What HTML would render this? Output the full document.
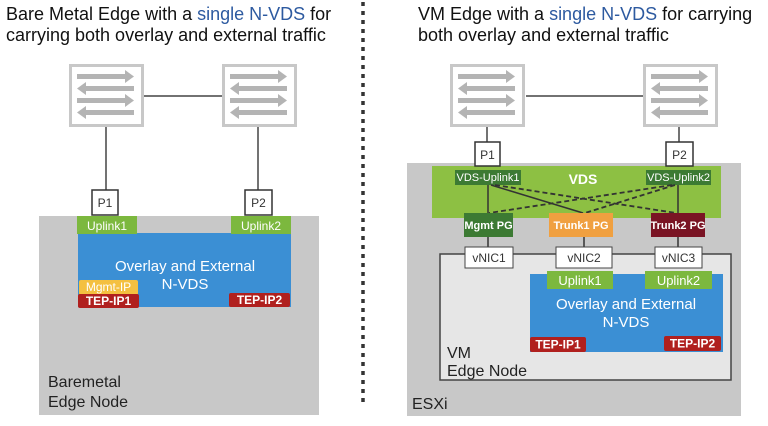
<!DOCTYPE html>
<html><head><meta charset="utf-8"><style>
body{margin:0;background:#fff;}
svg{display:block;font-family:"Liberation Sans",sans-serif;}
</style></head><body>
<svg width="768" height="426" viewBox="0 0 768 426" xmlns="http://www.w3.org/2000/svg">
<defs>
<g id="sw">
<rect x="1.5" y="1.5" width="72" height="60" fill="#fff" stroke="#c8c8c8" stroke-width="3"/>
<g fill="#b4b4b4">
<rect x="8" y="10" width="48" height="5"/><polygon points="56,6 65,12.5 56,19"/>
<rect x="17" y="22" width="48" height="5"/><polygon points="17,18 8,24.5 17,31"/>
<rect x="8" y="34" width="48" height="5"/><polygon points="56,30 65,36.5 56,43"/>
<rect x="17" y="46" width="48" height="5"/><polygon points="17,42 8,48.5 17,55"/>
</g>
</g>
</defs>
<!-- titles -->
<g font-size="18" fill="#111">
<text x="6" y="20">Bare Metal Edge with a <tspan fill="#2d5aa0">single N-VDS</tspan> for</text>
<text x="6" y="41">carrying both overlay and external traffic</text>
<text x="418" y="20">VM Edge with a <tspan fill="#2d5aa0">single N-VDS</tspan> for carrying</text>
<text x="418" y="41">both overlay and external traffic</text>
</g>
<line x1="363" y1="2" x2="363" y2="402" stroke="#333" stroke-width="3.5" stroke-dasharray="4,5"/>

<!-- LEFT -->
<line x1="143" y1="96" x2="222" y2="96" stroke="#444" stroke-width="1.5"/>
<use href="#sw" x="69" y="64"/>
<use href="#sw" x="222" y="64"/>
<line x1="106" y1="127" x2="106" y2="190" stroke="#444" stroke-width="1.5"/>
<line x1="258" y1="127" x2="258" y2="190" stroke="#444" stroke-width="1.5"/>
<rect x="39" y="216" width="280" height="199" fill="#c8c8c8"/>
<rect x="78" y="233" width="213" height="74" fill="#3b8fd4"/>
<rect x="92" y="190" width="26" height="25" fill="#fff" stroke="#333" stroke-width="1.5"/>
<rect x="245" y="190" width="27" height="25" fill="#fff" stroke="#333" stroke-width="1.5"/>
<g font-size="12" fill="#333" text-anchor="middle"><text x="105" y="207">P1</text><text x="258.5" y="207">P2</text></g>
<rect x="77" y="216" width="60" height="18" fill="#7cb83e"/>
<rect x="231" y="216" width="60" height="18" fill="#7cb83e"/>
<g font-size="12" fill="#fff" text-anchor="middle"><text x="107" y="230">Uplink1</text><text x="261" y="230">Uplink2</text></g>
<g font-size="15" fill="#fff" text-anchor="middle"><text x="185" y="271">Overlay and External</text><text x="185" y="289">N-VDS</text></g>
<rect x="79" y="280" width="59" height="15" rx="2" fill="#f4c040"/>
<text x="108.5" y="291" font-size="12" fill="#fff" text-anchor="middle">Mgmt-IP</text>
<rect x="78" y="294" width="61" height="14" rx="2" fill="#b0201e"/>
<rect x="229" y="293" width="61" height="14" rx="2" fill="#b0201e"/>
<g font-size="12" fill="#fff" text-anchor="middle" font-weight="bold"><text x="108.5" y="305">TEP-IP1</text><text x="259.5" y="304">TEP-IP2</text></g>
<g font-size="16" fill="#222"><text x="48" y="387">Baremetal</text><text x="48" y="407">Edge Node</text></g>

<!-- RIGHT -->
<line x1="526" y1="96" x2="643" y2="96" stroke="#444" stroke-width="1.5"/>
<use href="#sw" x="450" y="64"/>
<use href="#sw" x="643" y="64"/>
<line x1="487" y1="127" x2="487" y2="142" stroke="#444" stroke-width="1.5"/>
<line x1="679" y1="127" x2="679" y2="142" stroke="#444" stroke-width="1.5"/>
<rect x="407" y="163" width="334" height="253" fill="#c8c8c8"/>
<rect x="432" y="166" width="289" height="52" fill="#8dc043"/>
<rect x="440" y="254" width="291" height="126" fill="#e6e6e6" stroke="#444" stroke-width="1.5"/>
<rect x="475" y="142" width="25" height="24" fill="#fff" stroke="#333" stroke-width="1.5"/>
<rect x="666" y="142" width="27" height="24" fill="#fff" stroke="#333" stroke-width="1.5"/>
<g font-size="12" fill="#333" text-anchor="middle"><text x="487.5" y="159">P1</text><text x="679.5" y="159">P2</text></g>
<rect x="455" y="170" width="66" height="15" fill="#3c7a33"/>
<rect x="646" y="170" width="65" height="15" fill="#3c7a33"/>
<g font-size="11" fill="#fff" text-anchor="middle"><text x="488" y="181">VDS-Uplink1</text><text x="678.5" y="181">VDS-Uplink2</text></g>
<text x="583" y="184" font-size="14" font-weight="bold" fill="#fff" text-anchor="middle">VDS</text>
<g stroke="#333" stroke-width="1.5" fill="none">
<line x1="488" y1="185" x2="488" y2="247"/>
<line x1="491" y1="185" x2="583" y2="213"/>
<line x1="678" y1="185" x2="678" y2="247"/>
<line x1="584" y1="237" x2="584" y2="247"/>
</g>
<g stroke="#333" stroke-width="1.8" stroke-dasharray="5,3" fill="none">
<line x1="495" y1="185" x2="676" y2="213"/>
<line x1="672" y1="185" x2="489" y2="213"/>
<line x1="675" y1="185" x2="585" y2="213"/>
</g>
<rect x="464" y="213" width="49" height="24" fill="#3c7a33"/>
<rect x="549" y="213" width="64" height="24" fill="#f0a040"/>
<rect x="651" y="213" width="54" height="24" fill="#7a1424"/>
<g font-size="11" fill="#fff" text-anchor="middle" font-weight="bold"><text x="488.5" y="229">Mgmt PG</text><text x="581" y="229">Trunk1 PG</text><text x="678" y="229">Trunk2 PG</text></g>
<rect x="465" y="247" width="48" height="21" fill="#fff" stroke="#444" stroke-width="1"/>
<rect x="556" y="247" width="56" height="21" fill="#fff" stroke="#444" stroke-width="1"/>
<rect x="655" y="247" width="47" height="21" fill="#fff" stroke="#444" stroke-width="1"/>
<g font-size="12" fill="#333" text-anchor="middle"><text x="489" y="262">vNIC1</text><text x="584" y="262">vNIC2</text><text x="678.5" y="262">vNIC3</text></g>
<rect x="530" y="274" width="193" height="78" fill="#3b8fd4"/>
<rect x="547" y="271" width="66" height="18" fill="#7cb83e"/>
<rect x="645" y="271" width="67" height="18" fill="#7cb83e"/>
<g font-size="13" fill="#fff" text-anchor="middle"><text x="580" y="285">Uplink1</text><text x="678.5" y="285">Uplink2</text></g>
<g font-size="15" fill="#fff" text-anchor="middle"><text x="626" y="309">Overlay and External</text><text x="626" y="327">N-VDS</text></g>
<rect x="530" y="337" width="56" height="15" rx="2" fill="#b0201e"/>
<rect x="664" y="336" width="57" height="15" rx="2" fill="#b0201e"/>
<g font-size="12" fill="#fff" text-anchor="middle" font-weight="bold"><text x="558" y="348.5">TEP-IP1</text><text x="692.5" y="347.5">TEP-IP2</text></g>
<g font-size="16" fill="#222"><text x="447" y="358">VM</text><text x="447" y="376">Edge Node</text><text x="412" y="409">ESXi</text></g>
</svg>
</body></html>
